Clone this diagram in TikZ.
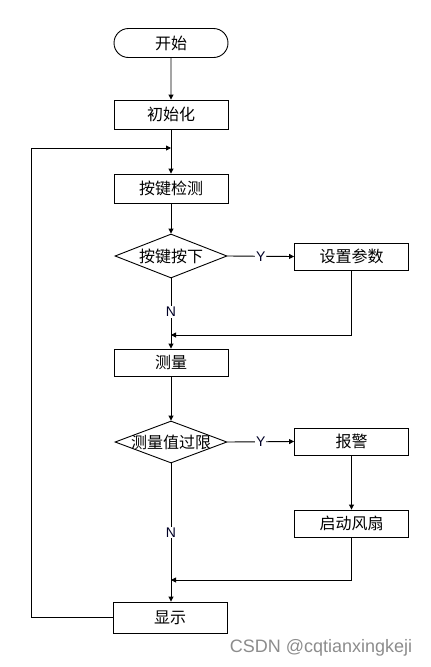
\documentclass[tikz,border=0pt]{standalone}
\usepackage{fontspec}
\setmainfont{Liberation Sans}
\newfontfamily\cjk{Noto Sans CJK SC}
\usetikzlibrary{shapes.geometric,shapes.misc,arrows.meta}
\tikzset{
  box/.style={draw, line width=0.9pt, minimum width=114pt, minimum height=29pt, inner sep=0pt, font=\cjk\fontsize{16}{18}\selectfont},
  term/.style={box, rounded rectangle},
  dec/.style={draw, line width=0.9pt, diamond, aspect=2.55, minimum width=112pt, minimum height=44pt, inner xsep=-25pt, inner ysep=-8pt, font=\cjk\fontsize{16}{18}\selectfont},
  flow/.style={line width=0.9pt, -{Triangle[length=5pt,width=5pt]}},
  yn/.style={fill=white, inner sep=1pt, font=\fontsize{14}{16}\selectfont, text=black!85!blue}
}
\begin{document}
\begin{tikzpicture}[x=1pt,y=-1pt]
\useasboundingbox (0,0) rectangle (431,667);
\node[term] (start) at (171,43) {开始};
\node[box] (init) at (171,114.5) {初始化};
\node[box] (key) at (171,188.5) {按键检测};
\node[dec] (d1) at (171,256) {按键按下};
\node[box, minimum height=27pt] (set) at (351.5,256.5) {设置参数};
\node[box, minimum height=27pt] (meas) at (171,362.5) {测量};
\node[dec, minimum height=42pt] (d2) at (171,442) {测量值过限};
\node[box, minimum height=27pt] (alarm) at (351.5,441.5) {报警};
\node[box, minimum height=27pt] (fan) at (351.5,523.5) {启动风扇};
\node[box, minimum height=31pt] (disp) at (170,617.5) {显示};
\coordinate (m1) at (171,148);
\coordinate (m2) at (171,335);
\coordinate (m3) at (171,580);
\coordinate (lp) at (31,148);
\draw[flow] (start) -- (init);
\draw[flow] (init) -- (key);
\draw[flow] (key) -- (d1);
\draw[flow] (d1.east) -- node[yn]{Y} (set.west);
\draw[flow] (d1.south) -- node[yn, pos=0.48]{N} (meas.north);
\draw[flow] (set.south) |- (m2);
\draw[flow] (meas) -- (d2);
\draw[flow] (d2.east) -- node[yn]{Y} (alarm.west);
\draw[flow] (alarm) -- (fan);
\draw[flow] (d2.south) -- node[yn, pos=0.5]{N} (disp.north -| d2.south);
\draw[flow] (fan.south) |- (m3);
\draw[flow] (disp.west) -| (lp) -- (m1);
\node[font=\fontsize{18}{20}\selectfont, text=black!45] (wm) at (321,648) {CSDN @cqtianxingkeji};
\end{tikzpicture}
\end{document}
